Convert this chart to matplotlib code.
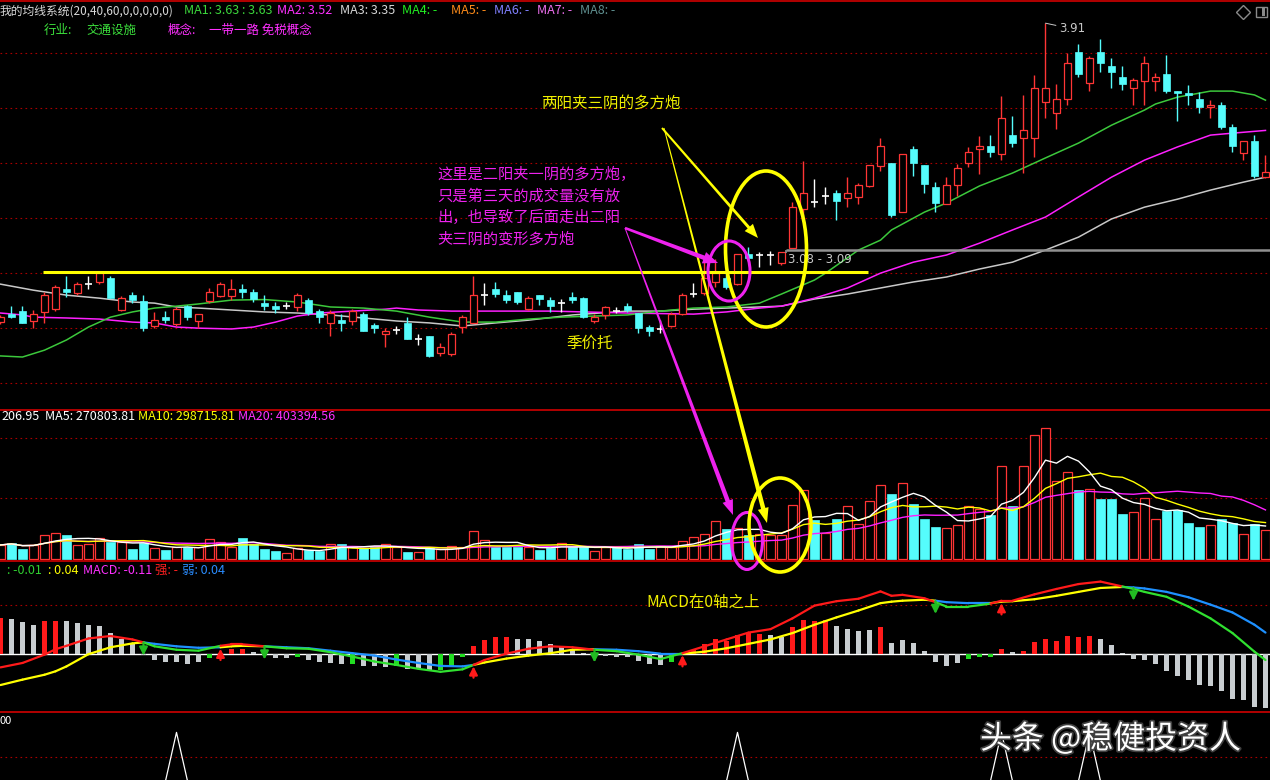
import numpy as np
import pandas as pd
import matplotlib
matplotlib.use('Agg')
import matplotlib.pyplot as plt
from matplotlib.patches import Ellipse, Polygon, Rectangle
from matplotlib.collections import LineCollection
from matplotlib.lines import Line2D
import matplotlib.patheffects as pe

plt.rcParams['font.family'] = ['Noto Sans CJK SC', 'DejaVu Sans']
plt.rcParams['axes.unicode_minus'] = False

# ---- daily bars (price) ----
opens = [2.823, 2.852, 2.863, 2.827, 2.860, 2.870, 2.943, 2.929, 2.961, 2.969,
         2.983, 2.867, 2.921, 2.899, 2.809, 2.841, 2.816, 2.881, 2.827, 2.899,
         2.918, 2.918, 2.943, 2.932, 2.892, 2.881, 2.881, 2.878, 2.903, 2.863,
         2.820, 2.830, 2.827, 2.852, 2.812, 2.780, 2.794, 2.820, 2.761, 2.772,
         2.710, 2.707, 2.805, 2.820, 2.921, 2.943, 2.921, 2.932, 2.870, 2.921,
         2.903, 2.892, 2.914, 2.910, 2.827, 2.849, 2.863, 2.881, 2.856, 2.805,
         2.798, 2.809, 2.852, 2.925, 2.929, 2.969, 2.983, 2.961, 3.070, 3.067,
         3.067, 3.038, 3.092, 3.234, 3.259, 3.281, 3.292, 3.274, 3.278, 3.318,
         3.390, 3.401, 3.223, 3.452, 3.394, 3.314, 3.252, 3.321, 3.401, 3.452,
         3.463, 3.434, 3.503, 3.492, 3.492, 3.623, 3.583, 3.634, 3.805, 3.692,
         3.805, 3.754, 3.714, 3.674, 3.699, 3.699, 3.725, 3.663, 3.656, 3.634,
         3.605, 3.612, 3.532, 3.438, 3.481, 3.350]
highs = [2.849, 2.881, 2.881, 2.867, 2.932, 2.958, 2.990, 2.969, 2.990, 3.010,
         2.990, 2.918, 2.932, 2.921, 2.860, 2.863, 2.878, 2.885, 2.852, 2.947,
         2.969, 2.979, 2.961, 2.943, 2.921, 2.896, 2.896, 2.929, 2.910, 2.870,
         2.867, 2.852, 2.870, 2.860, 2.820, 2.801, 2.809, 2.841, 2.779, 2.772,
         2.747, 2.787, 2.849, 2.990, 2.965, 2.969, 2.939, 2.932, 2.918, 2.921,
         2.914, 2.907, 2.932, 2.914, 2.852, 2.881, 2.878, 2.892, 2.856, 2.812,
         2.830, 2.860, 2.929, 2.965, 3.049, 3.052, 3.005, 3.070, 3.096, 3.078,
         3.081, 3.078, 3.259, 3.409, 3.343, 3.314, 3.303, 3.350, 3.329, 3.394,
         3.492, 3.401, 3.434, 3.463, 3.394, 3.332, 3.350, 3.398, 3.459, 3.499,
         3.503, 3.645, 3.572, 3.649, 3.721, 3.910, 3.689, 3.801, 3.834, 3.790,
         3.852, 3.783, 3.754, 3.710, 3.790, 3.729, 3.794, 3.663, 3.685, 3.659,
         3.630, 3.623, 3.543, 3.481, 3.503, 3.430]
lows = [2.816, 2.838, 2.820, 2.801, 2.820, 2.863, 2.914, 2.921, 2.943, 2.960,
        2.910, 2.863, 2.892, 2.790, 2.801, 2.820, 2.809, 2.830, 2.801, 2.892,
        2.914, 2.903, 2.910, 2.896, 2.867, 2.856, 2.870, 2.863, 2.849, 2.820,
        2.772, 2.790, 2.812, 2.790, 2.783, 2.732, 2.780, 2.761, 2.740, 2.696,
        2.699, 2.699, 2.783, 2.820, 2.885, 2.914, 2.892, 2.889, 2.867, 2.885,
        2.860, 2.860, 2.892, 2.838, 2.820, 2.834, 2.856, 2.860, 2.783, 2.772,
        2.783, 2.805, 2.849, 2.914, 2.921, 2.950, 2.943, 2.958, 3.052, 3.023,
        3.030, 3.030, 3.092, 3.205, 3.241, 3.252, 3.194, 3.241, 3.252, 3.314,
        3.372, 3.205, 3.223, 3.354, 3.292, 3.223, 3.252, 3.281, 3.387, 3.361,
        3.423, 3.412, 3.459, 3.365, 3.423, 3.565, 3.525, 3.612, 3.714, 3.663,
        3.732, 3.674, 3.667, 3.612, 3.612, 3.663, 3.656, 3.554, 3.612, 3.583,
        3.565, 3.525, 3.441, 3.412, 3.347, 3.347]
closes = [2.841, 2.841, 2.820, 2.852, 2.921, 2.950, 2.932, 2.961, 2.961, 3.001,
          2.910, 2.910, 2.903, 2.801, 2.830, 2.830, 2.870, 2.841, 2.852, 2.932,
          2.961, 2.943, 2.932, 2.907, 2.881, 2.870, 2.881, 2.921, 2.856, 2.841,
          2.856, 2.820, 2.863, 2.790, 2.801, 2.790, 2.794, 2.761, 2.761, 2.699,
          2.732, 2.780, 2.841, 2.921, 2.921, 2.925, 2.903, 2.896, 2.910, 2.907,
          2.881, 2.892, 2.903, 2.841, 2.841, 2.878, 2.863, 2.867, 2.801, 2.790,
          2.798, 2.852, 2.921, 2.925, 2.983, 3.001, 2.950, 3.070, 3.056, 3.067,
          3.067, 3.078, 3.241, 3.292, 3.259, 3.281, 3.263, 3.292, 3.321, 3.394,
          3.463, 3.212, 3.434, 3.401, 3.325, 3.256, 3.321, 3.383, 3.441, 3.463,
          3.441, 3.565, 3.474, 3.521, 3.674, 3.674, 3.634, 3.765, 3.725, 3.783,
          3.765, 3.732, 3.689, 3.703, 3.765, 3.714, 3.663, 3.656, 3.649, 3.605,
          3.612, 3.532, 3.463, 3.481, 3.354, 3.368]

# moving averages (MA20 / MA40 / MA60)
ma20_idx = [0, 2, 4, 6, 8, 10, 12, 14, 16, 18, 21, 24, 27, 30, 33, 36, 39, 42, 45, 48,
            51, 54, 57, 60, 63, 66, 69, 71, 74, 75, 78, 80, 81, 84, 86, 89, 92, 95, 98,
            101, 104, 105, 107, 110, 112, 114, 115]
ma20_val = [2.700, 2.696, 2.721, 2.758, 2.805, 2.841, 2.860, 2.874, 2.881, 2.889, 2.903,
            2.905, 2.896, 2.878, 2.874, 2.863, 2.841, 2.823, 2.823, 2.834, 2.841, 2.845,
            2.849, 2.863, 2.874, 2.878, 2.892, 2.925, 2.976, 3.001, 3.085, 3.121, 3.158,
            3.223, 3.256, 3.318, 3.365, 3.420, 3.474, 3.539, 3.594, 3.616, 3.641, 3.663,
            3.663, 3.649, 3.630]
ma40_idx = [0, 2, 3, 6, 9, 12, 14, 16, 18, 21, 23, 25, 27, 29, 32, 35, 36, 38, 41, 44,
            50, 57, 63, 66, 69, 71, 74, 77, 80, 83, 86, 89, 92, 95, 98, 101, 104, 107,
            110, 112, 115]
ma40_val = [2.856, 2.849, 2.841, 2.838, 2.834, 2.823, 2.820, 2.805, 2.801, 2.798, 2.805,
            2.823, 2.845, 2.856, 2.863, 2.870, 2.874, 2.867, 2.863, 2.863, 2.863, 2.856,
            2.852, 2.860, 2.874, 2.881, 2.910, 2.947, 3.001, 3.041, 3.067, 3.110, 3.158,
            3.205, 3.278, 3.350, 3.412, 3.460, 3.503, 3.510, 3.520]
ma60_idx = [0, 3, 6, 9, 12, 14, 16, 18, 21, 24, 27, 30, 33, 36, 39, 42, 45, 48, 52, 57,
            60, 63, 66, 69, 71, 74, 77, 80, 83, 86, 89, 92, 93, 95, 98, 101, 104, 107,
            110, 113, 115]
ma60_val = [2.961, 2.939, 2.921, 2.910, 2.896, 2.892, 2.878, 2.874, 2.867, 2.860, 2.856,
            2.849, 2.838, 2.827, 2.820, 2.809, 2.820, 2.830, 2.849, 2.863, 2.863, 2.870,
            2.874, 2.878, 2.881, 2.907, 2.925, 2.947, 2.969, 2.987, 3.016, 3.041, 3.056,
            3.085, 3.132, 3.198, 3.241, 3.270, 3.303, 3.332, 3.350]

# volume (thousand shares)
volume = [116, 132, 83, 116, 198, 215, 198, 116, 124, 173, 140, 140, 83, 132, 91, 74, 99,
          99, 99, 165, 140, 99, 173, 124, 83, 66, 50, 91, 74, 66, 124, 124, 99, 91, 99, 124,
          99, 58, 58, 91, 83, 107, 99, 231, 157, 99, 99, 99, 99, 74, 91, 132, 99, 99, 66,
          99, 99, 83, 124, 83, 107, 99, 149, 182, 206, 314, 248, 256, 198, 206, 198, 198,
          446, 569, 322, 215, 330, 437, 289, 479, 611, 536, 627, 454, 330, 264, 256, 281,
          437, 413, 363, 767, 437, 767, 1023, 1081, 644, 718, 569, 578, 495, 495, 371, 388,
          503, 330, 396, 404, 297, 264, 281, 330, 297, 206, 289, 239]

# MACD histogram and its colour code (r = red, w = grey, g = green)
macd_bar = [0.073, 0.071, 0.065, 0.060, 0.067, 0.068, 0.067, 0.064, 0.059, 0.057,
            0.043, 0.031, 0.022, -0.002, -0.012, -0.017, -0.015, -0.020, -0.017, -0.007,
            0.002, 0.010, 0.010, 0.005, -0.001, -0.007, -0.008, -0.005, -0.012, -0.017,
            -0.018, -0.020, -0.020, -0.025, -0.025, -0.027, -0.025, -0.030, -0.029, -0.032,
            -0.032, -0.024, -0.005, 0.017, 0.029, 0.035, 0.035, 0.031, 0.031, 0.027,
            0.020, 0.014, 0.008, 0.003, -0.001, -0.003, -0.006, -0.005, -0.013, -0.020,
            -0.022, -0.015, 0.002, 0.008, 0.021, 0.031, 0.027, 0.039, 0.044, 0.041,
            0.039, 0.036, 0.056, 0.069, 0.068, 0.070, 0.058, 0.052, 0.048, 0.050,
            0.056, 0.022, 0.028, 0.022, 0.007, -0.017, -0.024, -0.018, -0.010, -0.005,
            -0.005, 0.010, 0.004, 0.007, 0.024, 0.031, 0.027, 0.037, 0.035, 0.037,
            0.031, 0.019, 0.003, -0.010, -0.012, -0.020, -0.034, -0.044, -0.052, -0.063,
            -0.065, -0.076, -0.091, -0.093, -0.107, -0.109]
macd_col = ("rwwwrrwwww" "wwwwwwwwwg" "rrrwwwwgww" "wwgwwwgwww" "gggrrrrwww"
            "wwwwwwwwww" "wgrrrrrrrr" "wwrrrrwwww" "rwwwwwwwgg" "grwrrrrrrr"
            "wwwwwwwwww" "wwwwww")

macd_idx = [0, 2, 4, 5, 6, 8, 10, 12, 13, 14, 16, 18, 20, 21, 22, 24, 26, 28, 30, 32, 34,
            36, 38, 40, 42, 43, 44, 46, 48, 50, 52, 54, 56, 58, 60, 62, 64, 66, 68, 70, 72,
            74, 76, 78, 80, 81, 82, 84, 85, 86, 88, 90, 91, 92, 94, 96, 98, 100, 102, 103,
            104, 106, 108, 110, 112, 114, 115]
dif = [-0.027, -0.018, -0.001, 0.010, 0.017, 0.032, 0.037, 0.030, 0.024, 0.016, 0.009,
       0.007, 0.017, 0.020, 0.020, 0.016, 0.012, 0.011, 0.004, -0.005, -0.015, -0.022,
       -0.030, -0.036, -0.031, -0.022, -0.012, 0.001, 0.011, 0.016, 0.014, 0.009, 0.006,
       -0.001, -0.010, 0.002, 0.016, 0.030, 0.044, 0.051, 0.073, 0.099, 0.108, 0.113,
       0.128, 0.119, 0.121, 0.114, 0.106, 0.097, 0.097, 0.103, 0.109, 0.109, 0.122, 0.133,
       0.143, 0.148, 0.138, 0.133, 0.127, 0.117, 0.097, 0.073, 0.043, 0.005, -0.012]
dea = [-0.063, -0.052, -0.042, -0.035, -0.025, 0.000, 0.014, 0.022, 0.024, 0.021, 0.016,
       0.013, 0.014, 0.016, 0.017, 0.016, 0.014, 0.012, 0.007, 0.002, -0.003, -0.011,
       -0.018, -0.024, -0.025, -0.022, -0.017, -0.009, -0.003, 0.002, 0.009, 0.010, 0.009,
       0.006, 0.001, 0.001, 0.005, 0.012, 0.021, 0.030, 0.043, 0.060, 0.075, 0.089, 0.104,
       0.107, 0.109, 0.111, 0.109, 0.106, 0.104, 0.104, 0.107, 0.108, 0.112, 0.119, 0.127,
       0.135, 0.137, 0.136, 0.134, 0.127, 0.116, 0.101, 0.085, 0.060, 0.044]
gold_cross = [20, 43, 62, 91]
dead_cross = [13, 24, 54, 85, 103]

signal_days = [16, 67, 91, 99]

RED = '#ff3535'
CYAN = '#55fcfc'
GRID = '#a80000'
BORDER = '#c00000'
W, H = 1270, 780

fig = plt.figure(figsize=(12.7, 7.8), dpi=100, facecolor='black')


def px(x, y):
    return x / W, 1 - y / H


def add_ax(top, bottom):
    ax = fig.add_axes([0, 1 - bottom / H, 1, (bottom - top) / H])
    ax.set_facecolor('black')
    for s in ax.spines.values():
        s.set_visible(False)
    ax.set_xticks([])
    ax.set_yticks([])
    ax.set_xlim(-0.045, 115.41)
    return ax


ax_k = add_ax(2, 409)
ax_v = add_ax(409, 561)
ax_m = add_ax(561, 712)
ax_s = add_ax(712, 780)

x = np.arange(len(closes))
o, hi, lo, c = (np.array(a) for a in (opens, highs, lows, closes))
up = c > o
dn = c < o
cr = c == o

# ---- main price panel ----
ax_k.set_ylim(2.507, 3.987)
for p in np.arange(2.6, 3.81, 0.2):
    ax_k.axhline(p, color=GRID, lw=0.8, ls=(0, (1.5, 3)), zorder=0)

ax_k.plot(ma60_idx, ma60_val, color='#c8c8c8', lw=1.1, zorder=1)
ax_k.plot(ma40_idx, ma40_val, color='#ff20ff', lw=1.1, zorder=1)
ax_k.plot(ma20_idx, ma20_val, color='#3cc83c', lw=1.1, zorder=1)

wick_col = np.where(up, RED, np.where(dn, CYAN, 'white'))
ax_k.vlines(x, lo, hi, colors=wick_col, lw=1, zorder=2)
ax_k.bar(x[up], (c - o)[up], bottom=o[up], width=0.72, facecolor='black',
         edgecolor=RED, lw=0.9, zorder=3)
ax_k.bar(x[dn], (c - o)[dn], bottom=o[dn], width=0.72, facecolor=CYAN,
         edgecolor=CYAN, lw=0.5, zorder=3)
ax_k.hlines(c[cr], x[cr] - 0.36, x[cr] + 0.36, colors='white', lw=1.2, zorder=3)

# support line and box line
ax_k.hlines(3.005, 3.86, 78.9, color='#ffff00', lw=2.2, zorder=4)
ax_k.hlines(3.085, 71.4, 116, color='#909090', lw=1.8, zorder=4)
ax_k.vlines(71.4, 3.074, 3.085, color='#909090', lw=1.2, zorder=4)
ax_k.text(71.55, 3.049, '3.08 - 3.09', color='#c8c8c8', fontsize=8.5,
          family='DejaVu Sans', va='center', ha='left', zorder=5)
ax_k.annotate('3.91', xy=(95, highs[95]), xytext=(9.5, -4), textcoords='offset points',
              color='#c8c8c8', fontsize=8.5, family='DejaVu Sans', va='center', ha='left',
              arrowprops=dict(arrowstyle='-', color='#c8c8c8', lw=0.7, shrinkA=0, shrinkB=0))

# ---- volume panel ----
vol = np.array(volume, float)
vol_up = up | (cr & (c >= np.r_[c[0], c[:-1]]))
ax_v.set_ylim(-16.5, 1237)
for p in (500, 1000):
    ax_v.axhline(p, color=GRID, lw=0.8, ls=(0, (1.5, 3)), zorder=0)
ax_v.bar(x[vol_up], vol[vol_up], width=0.73, facecolor='black', edgecolor=RED, lw=0.9, zorder=2)
ax_v.bar(x[~vol_up], vol[~vol_up], width=0.73, facecolor=CYAN, edgecolor=CYAN, lw=0.5, zorder=2)
vs = pd.Series(vol)
ax_v.plot(x, vs.rolling(20, min_periods=1).mean(), color='#ff20ff', lw=1, zorder=3)
ax_v.plot(x, vs.rolling(10, min_periods=1).mean(), color='#ffff00', lw=1, zorder=3)
ax_v.plot(x, vs.rolling(5, min_periods=1).mean(), color='white', lw=1, zorder=3)

# ---- MACD panel ----
ax_m.set_ylim(-0.118, 0.19)
ax_m.axhline(0.1, color=GRID, lw=0.8, ls=(0, (1.5, 3)), zorder=0)
ax_m.axhline(0, color='white', lw=1, zorder=1)
bar_colors = [{'r': '#ff1a1a', 'w': '#c8cdd0', 'g': '#22dd22'}[k] for k in macd_col]
ax_m.bar(x, macd_bar, width=0.45, color=bar_colors, zorder=2)

mi = np.array(macd_idx, float)
dif = np.array(dif)
dea = np.array(dea)
strong = (dif[:-1] + dif[1:]) >= (dea[:-1] + dea[1:])
seg_dea = [[(mi[k], dea[k]), (mi[k + 1], dea[k + 1])] for k in range(len(mi) - 1)]
seg_dif = [[(mi[k], dif[k]), (mi[k + 1], dif[k + 1])] for k in range(len(mi) - 1)]
ax_m.add_collection(LineCollection(seg_dea, colors=np.where(strong, '#ffff00', '#1e90ff'),
                                   lw=1.6, zorder=3, capstyle='round'))
ax_m.add_collection(LineCollection(seg_dif, colors=np.where(strong, '#ff1a1a', '#30e030'),
                                   lw=1.6, zorder=4, capstyle='round'))
for i in gold_cross:
    v = np.interp(i, mi, dea) - 0.003
    ax_m.annotate('', xy=(i, v), xytext=(i, v - 0.023),
                  arrowprops=dict(arrowstyle='-|>', color='#ff1a1a', lw=1.6,
                                  mutation_scale=12, shrinkA=0, shrinkB=0), zorder=5)
for i in dead_cross:
    v = np.interp(i, mi, dea) - 0.001
    ax_m.annotate('', xy=(i, v - 0.026), xytext=(i, v),
                  arrowprops=dict(arrowstyle='-|>', color='#22bb22', lw=1.6,
                                  mutation_scale=12, shrinkA=0, shrinkB=0), zorder=5)

# ---- signal panel ----
ax_s.set_ylim(2, 142)
ax_s.axhline(50, color=GRID, lw=0.8, ls=(0, (1.5, 3)), zorder=0)
sig = np.zeros(len(closes))
sig[signal_days] = 100
ax_s.plot(x, sig, color='white', lw=0.9)

# ---- panel borders ----
for yb in (1, 409.5, 561, 712):
    fy = 1 - yb / H
    fig.add_artist(Line2D([0, 1], [fy, fy], transform=fig.transFigure, color=BORDER, lw=1.3))

# ---- header texts ----
def ftext(xp, yp, s, color, size=9, **kw):
    fx, fy = px(xp, yp)
    return fig.text(fx, fy, s, color=color, fontsize=size, ha='left', va='center', **kw)


ftext(0, 11, '我的均线系统(20,40,60,0,0,0,0,0)', '#d8d8d8', size=8.5)
ftext(184, 11, 'MA1: 3.63 : 3.63', '#3cd83c')
ftext(277, 11, 'MA2: 3.52', '#ff30ff')
ftext(340, 11, 'MA3: 3.35', '#d8d8d8')
ftext(402, 11, 'MA4: -', '#22ee22')
ftext(451, 11, 'MA5: -', '#ff8c1a')
ftext(494, 11, 'MA6: -', '#8080ff')
ftext(537, 11, 'MA7: -', '#f070f0')
ftext(580, 11, 'MA8: -', '#5f9090')
ftext(44, 30, '行业:', '#3ce03c')
ftext(86, 30, '交通设施', '#3ce03c')
ftext(168, 30, '概念:', '#ff30ff')
ftext(209, 30, '一带一路 免税概念', '#ff30ff')

ftext(1, 417, '206.95', 'white')
ftext(45, 417, 'MA5: 270803.81', 'white')
ftext(138, 417, 'MA10: 298715.81', '#ffff00')
ftext(238, 417, 'MA20: 403394.56', '#ff30ff')

ftext(7, 570, ': -0.01', '#30d030')
ftext(48, 570, ': 0.04', '#ffff00')
ftext(83, 570, 'MACD: -0.11', '#ff30ff')
ftext(155, 570, '强: -', '#ff2020')
ftext(182, 570, '弱: 0.04', '#2a8cff')

ftext(0, 721, '00', 'white', size=8)

# icons top right
fig.add_artist(Line2D([1243 / W], [1 - 12 / H], transform=fig.transFigure, marker='D',
                      markersize=7, markerfacecolor='none', markeredgecolor='#8a8a8a', lw=0))
fig.add_artist(Rectangle(px(1256, 17), 11 / W, 10 / H, transform=fig.transFigure,
                         facecolor='none', edgecolor='#8a8a8a', lw=1))
fig.add_artist(Rectangle(px(1262, 16), 3 / W, 8 / H, transform=fig.transFigure,
                         facecolor='#8a8a8a', edgecolor='none'))

# ---- annotations ----
MAG = '#ee22ee'
YEL = '#ffff00'
for k, line in enumerate(['这里是二阳夹一阴的多方炮，', '只是第三天的成交量没有放',
                          '出，也导致了后面走出二阳', '夹三阴的变形多方炮']):
    ftext(437, 174 + k * 21.7, line, MAG, size=11)
ftext(541, 104, '两阳夹三阴的多方炮', '#f0f000', size=11.2)
ftext(566, 343, '季价托', '#f0f000', size=11.2)
ftext(646, 602, 'MACD在0轴之上', '#f0f000', size=11.2)


def ellipse(cx, cy, w, h, color, lw):
    e = Ellipse(px(cx, cy), w / W, h / H, transform=fig.transFigure, fill=False,
                edgecolor=color, lw=lw, zorder=10)
    fig.add_artist(e)


ellipse(766, 249, 81, 156, YEL, 2.6)
ellipse(729, 271, 42, 60, MAG, 2.2)
ellipse(747, 541, 31, 57, MAG, 2.2)
ellipse(780, 525, 62, 94, YEL, 2.6)


def taper(x0, y0, x1, y1, w0, w1, hl, hw, color):
    d = np.array([x1 - x0, y1 - y0], float)
    d /= np.hypot(*d)
    n = np.array([-d[1], d[0]])
    p0 = np.array([x0, y0], float)
    p1 = np.array([x1, y1], float)
    b = p1 - d * hl
    pts = [p0 + n * w0 / 2, b + n * w1 / 2, b + n * hw / 2, p1,
           b - n * hw / 2, b - n * w1 / 2, p0 - n * w0 / 2]
    fig.add_artist(Polygon([px(*q) for q in pts], closed=True, transform=fig.transFigure,
                           facecolor=color, edgecolor='none', zorder=11))


taper(664, 128, 767, 523, 1.0, 4.5, 15, 11, YEL)
taper(662, 128, 758, 238, 2.0, 3.0, 14, 11, YEL)
taper(625, 228, 733, 515, 1.0, 4.5, 15, 11, MAG)
taper(625, 228, 718, 263, 2.5, 4.5, 15, 12, MAG)

# watermark
fx, fy = px(980, 739)
fig.text(fx, fy, '头条 @稳健投资人', color='white', fontsize=23, ha='left', va='center',
         path_effects=[pe.withStroke(linewidth=2.5, foreground='#404040')])

fig.savefig('out.png', dpi=100, facecolor='black')
